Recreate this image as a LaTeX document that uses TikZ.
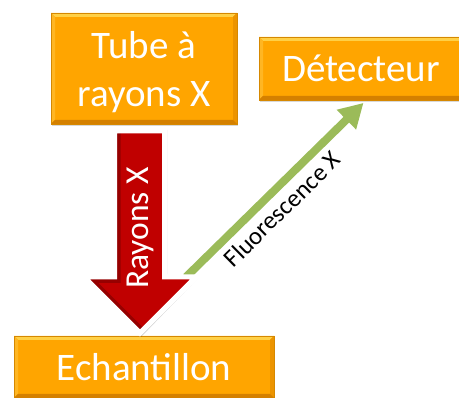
\documentclass[tikz,border=0pt]{standalone}
\usepackage{fontspec}
\setmainfont{Carlito}
\usetikzlibrary{arrows.meta,shadows,calc}
\definecolor{boxorange}{RGB}{255,165,0}
\definecolor{boxedge}{RGB}{214,136,0}
\definecolor{bevtop}{RGB}{255,208,70}
\definecolor{bevleft}{RGB}{255,182,35}
\definecolor{bevright}{RGB}{236,148,0}
\definecolor{bevbot}{RGB}{212,128,0}
\definecolor{xred}{RGB}{192,0,0}
\definecolor{xdark}{RGB}{150,0,0}
\definecolor{fgreen}{RGB}{155,187,89}
\begin{document}
\begin{tikzpicture}[x=1pt,y=-1pt,
  box/.style={draw=boxedge, line width=0.8pt, fill=boxorange, text=white, inner sep=0pt,
    drop shadow={shadow xshift=1pt, shadow yshift=-2pt, opacity=0.3},
    path picture={
      \coordinate (nw) at (path picture bounding box.north west);
      \coordinate (ne) at (path picture bounding box.north east);
      \coordinate (sw) at (path picture bounding box.south west);
      \coordinate (se) at (path picture bounding box.south east);
      \fill[bevtop] (nw) -- (ne) -- ([xshift=-4pt,yshift=-4pt]ne) -- ([xshift=4pt,yshift=-4pt]nw) -- cycle;
      \fill[bevleft] (nw) -- ([xshift=4pt,yshift=-4pt]nw) -- ([xshift=4pt,yshift=4pt]sw) -- (sw) -- cycle;
      \fill[bevright] (ne) -- ([xshift=-4pt,yshift=-4pt]ne) -- ([xshift=-4pt,yshift=4pt]se) -- (se) -- cycle;
      \fill[bevbot] (sw) -- (se) -- ([xshift=-4pt,yshift=4pt]se) -- ([xshift=4pt,yshift=4pt]sw) -- cycle;
    }},
  boxtext/.style={font=\fontsize{39}{48}\selectfont},
  flabel/.style={font=\fontsize{25}{25}\selectfont, text=black},
  rlabel/.style={font=\fontsize{33.5}{33.5}\selectfont, text=white}
]
\useasboundingbox (0,0) rectangle (459,398);
\fill[white] (0,0) rectangle (459,398);

\node[box, boxtext, minimum width=186pt, minimum height=111pt, align=center] (tube) at (144,68.5) {\rule{0pt}{35pt}Tube à\\rayons X};
\node[box, boxtext, minimum width=204pt, minimum height=63pt] (det) at (361,68.5) {Détecteur};
\node[box, boxtext, minimum width=260pt, minimum height=62pt] (ech) at (144,367) {Echantillon};

% green fluorescence arrow
\coordinate (gs) at (186,277);
\draw[fgreen, line width=8pt, -{Triangle[width=26pt,length=24pt]}]
  (gs) -- ($(det.south)+(2.5,2.5)$);

% red X-ray arrow
\fill[black, opacity=0.18]
  (112,130) -- (167,130) -- (167,277) -- (199,277) -- (141,337) -- (82,277) -- (112,277) -- cycle;
\fill[xred]
  (114.5,131) -- (164.5,131) -- (164.5,277) -- (196,277) -- (140,333) -- (84,277) -- (114.5,277) -- cycle;
\begin{scope}
  \clip (114.5,131) -- (164.5,131) -- (164.5,277) -- (196,277) -- (140,333) -- (84,277) -- (114.5,277) -- cycle;
  \draw[xdark, line width=12pt, line join=miter] (114.5,131) -- (114.5,277) -- (84,277) -- (140,333);
\end{scope}
\draw[white, line width=5pt, line join=miter]
  (114.5,131) -- (164.5,131) -- (164.5,277) -- (196,277) -- (140,333) -- (84,277) -- (114.5,277) -- cycle;

\node[rlabel, rotate=90] (rl) at (140,228) {Rayons X};
\node[flabel, rotate=44.5] (fl) at (282,209) {Fluorescence X};
\end{tikzpicture}
\end{document}
